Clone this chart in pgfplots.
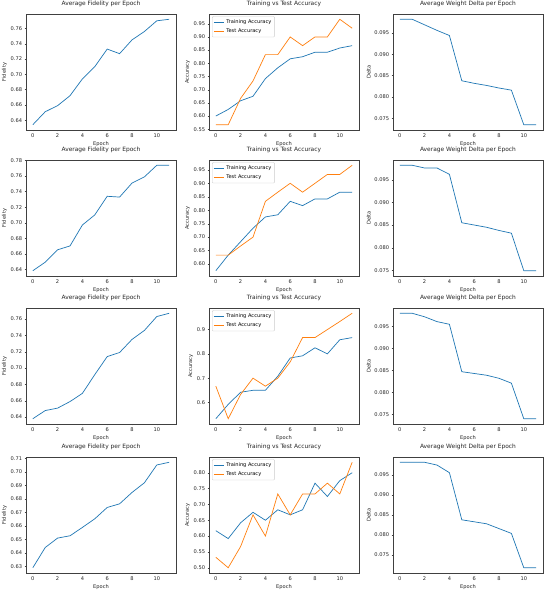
\documentclass[border=0pt]{standalone}
\usepackage{fontspec}
\setmainfont{DejaVu Sans}
\usepackage{pgfplots}
\pgfplotsset{compat=1.18}
\definecolor{tabblue}{HTML}{1F77B4}
\definecolor{taborange}{HTML}{FF7F0E}
\pgfplotsset{
  base/.style={
    scale only axis, width=150pt, height=116pt,
    anchor=north west,
    enlarge x limits=0.05, enlarge y limits=0.05,
    xtick={0,2,...,10}, xlabel={Epoch},
    tick label style={font=\fontsize{5.1}{6}\selectfont, text=black!85},
    label style={font=\fontsize{5.1}{6}\selectfont, text=black!85},
    title style={font=\fontsize{5.9}{7}\selectfont, text=black!85, yshift=-2.5pt},
    xlabel style={yshift=3pt},
    ylabel style={yshift=-3pt},
    axis line style={black!75, line width=0.35pt},
    tick align=outside, xtick pos=bottom, ytick pos=left,
    major tick length=1.4pt,
    every tick/.style={black!75, line width=0.3pt},
    xticklabel style={yshift=1pt},
    yticklabel style={xshift=1pt},
    /pgf/number format/assume math mode=true,
    scaled y ticks=false,
    yticklabel style={/pgf/number format/fixed, /pgf/number format/fixed zerofill, /pgf/number format/precision=2},
    legend style={at={(0.02,0.98)}, anchor=north west, font=\fontsize{5.1}{6}\selectfont,
      draw=black!20, rounded corners=1pt, inner sep=1.2pt, row sep=-0.5pt, fill=white},
    legend cell align=left,
    legend image code/.code={\draw[#1] (0cm,0cm) -- (0.36cm,0cm);},
  },
  fid/.style={base, title={Average Fidelity per Epoch}, ylabel={Fidelity}},
  acc/.style={base, title={Training vs Test Accuracy}, ylabel={Accuracy}},
  del/.style={base, title={Average Weight Delta per Epoch}, ylabel={Delta},
    yticklabel style={/pgf/number format/precision=3},
    ytick={0.075,0.080,0.085,0.090,0.095}},
  bl/.style={color=tabblue, line width=0.7pt, no marks},
  or/.style={color=taborange, line width=0.7pt, no marks},
}
\begin{document}
\begin{tikzpicture}
\useasboundingbox (0,0) rectangle (550pt,-590pt);
\fill[white] (0,0) rectangle (550pt,-590pt);
% ---------- Row 1 ----------
\begin{axis}[fid, at={(26pt,-14pt)}, ytick={0.64,0.66,...,0.761}]
\addplot[bl] coordinates {(0,0.634)(1,0.651)(2,0.659)(3,0.672)(4,0.694)(5,0.710)(6,0.733)(7,0.727)(8,0.745)(9,0.756)(10,0.770)(11,0.772)};
\end{axis}
\begin{axis}[acc, at={(209pt,-14pt)}, ytick={0.55,0.60,...,0.951}]
\addplot[bl] coordinates {(0,0.600)(1,0.625)(2,0.658)(3,0.675)(4,0.742)(5,0.783)(6,0.817)(7,0.825)(8,0.842)(9,0.842)(10,0.858)(11,0.867)};
\addlegendentry{Training Accuracy}
\addplot[or] coordinates {(0,0.567)(1,0.567)(2,0.667)(3,0.733)(4,0.833)(5,0.833)(6,0.900)(7,0.867)(8,0.900)(9,0.900)(10,0.967)(11,0.933)};
\addlegendentry{Test Accuracy}
\end{axis}
\begin{axis}[del, at={(393pt,-14pt)}]
\addplot[bl] coordinates {(0,0.0982)(1,0.0982)(2,0.0969)(3,0.0956)(4,0.0944)(5,0.0838)(6,0.0832)(7,0.0827)(8,0.0821)(9,0.0816)(10,0.0735)(11,0.0735)};
\end{axis}
% ---------- Row 2 ----------
\begin{axis}[fid, at={(26pt,-160pt)}, ytick={0.64,0.66,...,0.781}]
\addplot[bl] coordinates {(0,0.638)(1,0.649)(2,0.665)(3,0.670)(4,0.697)(5,0.710)(6,0.734)(7,0.733)(8,0.751)(9,0.759)(10,0.774)(11,0.774)};
\end{axis}
\begin{axis}[acc, at={(209pt,-160pt)}, ytick={0.60,0.65,...,0.951}]
\addplot[bl] coordinates {(0,0.575)(1,0.633)(2,0.683)(3,0.733)(4,0.775)(5,0.783)(6,0.833)(7,0.817)(8,0.842)(9,0.842)(10,0.867)(11,0.867)};
\addlegendentry{Training Accuracy}
\addplot[or] coordinates {(0,0.633)(1,0.633)(2,0.667)(3,0.700)(4,0.833)(5,0.867)(6,0.900)(7,0.867)(8,0.900)(9,0.933)(10,0.933)(11,0.967)};
\addlegendentry{Test Accuracy}
\end{axis}
\begin{axis}[del, at={(393pt,-160pt)}]
\addplot[bl] coordinates {(0,0.0982)(1,0.0982)(2,0.0976)(3,0.0976)(4,0.0962)(5,0.0855)(6,0.0850)(7,0.0845)(8,0.0838)(9,0.0832)(10,0.0749)(11,0.0749)};
\end{axis}
% ---------- Row 3 ----------
\begin{axis}[fid, at={(26pt,-308pt)}, ytick={0.64,0.66,...,0.761}]
\addplot[bl] coordinates {(0,0.638)(1,0.648)(2,0.651)(3,0.659)(4,0.669)(5,0.692)(6,0.714)(7,0.719)(8,0.735)(9,0.746)(10,0.763)(11,0.767)};
\end{axis}
\begin{axis}[acc, at={(209pt,-308pt)}, ytick={0.6,0.7,0.8,0.9}, yticklabel style={/pgf/number format/precision=1}]
\addplot[bl] coordinates {(0,0.533)(1,0.592)(2,0.642)(3,0.650)(4,0.650)(5,0.708)(6,0.783)(7,0.792)(8,0.825)(9,0.800)(10,0.858)(11,0.867)};
\addlegendentry{Training Accuracy}
\addplot[or] coordinates {(0,0.667)(1,0.533)(2,0.633)(3,0.700)(4,0.667)(5,0.700)(6,0.767)(7,0.867)(8,0.867)(9,0.900)(10,0.933)(11,0.967)};
\addlegendentry{Test Accuracy}
\end{axis}
\begin{axis}[del, at={(393pt,-308pt)}]
\addplot[bl] coordinates {(0,0.0980)(1,0.0980)(2,0.0972)(3,0.0961)(4,0.0955)(5,0.0847)(6,0.0843)(7,0.0839)(8,0.0832)(9,0.0821)(10,0.0740)(11,0.0740)};
\end{axis}
% ---------- Row 4 ----------
\begin{axis}[fid, at={(26pt,-457pt)}, ytick={0.63,0.64,...,0.711}]
\addplot[bl] coordinates {(0,0.6290)(1,0.6440)(2,0.6510)(3,0.6527)(4,0.6589)(5,0.6653)(6,0.6737)(7,0.6764)(8,0.6848)(9,0.6920)(10,0.7052)(11,0.7072)};
\end{axis}
\begin{axis}[acc, at={(209pt,-457pt)}, ytick={0.50,0.55,...,0.851}]
\addplot[bl] coordinates {(0,0.617)(1,0.592)(2,0.642)(3,0.675)(4,0.650)(5,0.683)(6,0.667)(7,0.683)(8,0.767)(9,0.725)(10,0.775)(11,0.800)};
\addlegendentry{Training Accuracy}
\addplot[or] coordinates {(0,0.533)(1,0.500)(2,0.567)(3,0.667)(4,0.600)(5,0.733)(6,0.667)(7,0.733)(8,0.733)(9,0.767)(10,0.733)(11,0.833)};
\addlegendentry{Test Accuracy}
\end{axis}
\begin{axis}[del, at={(393pt,-457pt)}]
\addplot[bl] coordinates {(0,0.0982)(1,0.0982)(2,0.0982)(3,0.0975)(4,0.0956)(5,0.0838)(6,0.0833)(7,0.0828)(8,0.0816)(9,0.0804)(10,0.0718)(11,0.0718)};
\end{axis}
\end{tikzpicture}
\end{document}
